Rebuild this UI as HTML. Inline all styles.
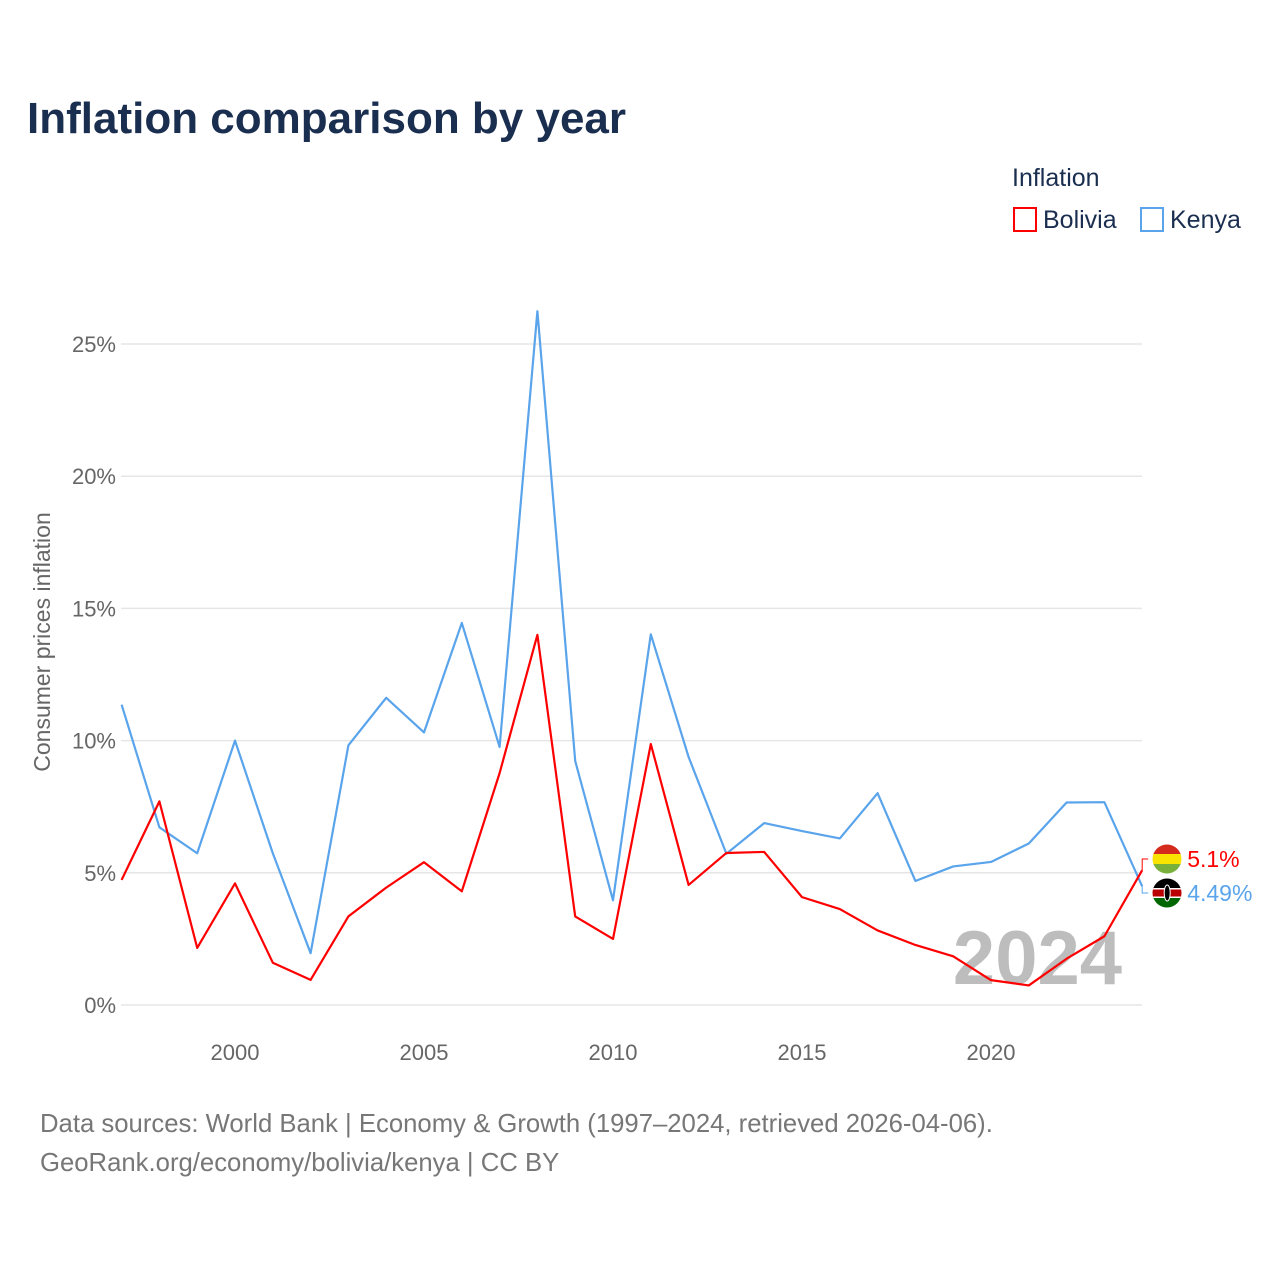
<!DOCTYPE html>
<html><head><meta charset="utf-8"><style>
body{margin:0;background:#fff;font-family:"Liberation Sans",sans-serif;}
svg text{font-family:"Liberation Sans",sans-serif;}
</style></head><body>
<svg id="chart" width="1280" height="1280" viewBox="0 0 1280 1280" xmlns="http://www.w3.org/2000/svg">
<defs>
<clipPath id="clipBo"><circle cx="1167" cy="859" r="14.5"/></clipPath>
<clipPath id="clipKe"><circle cx="1167" cy="893" r="14.5"/></clipPath>
</defs>
<rect width="1280" height="1280" fill="#fff"/>
<text x="27" y="133" font-size="44" font-weight="bold" fill="#1a2e4f">Inflation comparison by year</text>
<g>
<text x="1012" y="186" font-size="25" fill="#1a2e4f">Inflation</text>
<g><rect x="1014" y="208" width="22" height="23" fill="none" stroke="#f00" stroke-width="2"/><text x="1043" y="228" font-size="25" fill="#1a2e4f">Bolivia</text></g>
<g><rect x="1141" y="208" width="22" height="23" fill="none" stroke="#5aa4ec" stroke-width="2"/><text x="1170" y="228" font-size="25" fill="#1a2e4f">Kenya</text></g>
</g>
<g id="grid"></g>
<g id="yticks"></g>
<g id="xticks"></g>
<text transform="translate(50,642) rotate(-90)" text-anchor="middle" font-size="23" fill="#666">Consumer prices inflation</text>
<text x="1122" y="984" text-anchor="end" font-size="76" font-weight="bold" fill="#bdbdbd">2024</text>
<g id="series"></g>
<text x="40" y="1132" font-size="25.7" fill="#777">Data sources: World Bank | Economy &amp; Growth (1997–2024, retrieved 2026-04-06).</text>
<text x="40" y="1171" font-size="25.7" fill="#777">GeoRank.org/economy/bolivia/kenya | CC BY</text>
</svg>
<script>
const years=[1997,1998,1999,2000,2001,2002,2003,2004,2005,2006,2007,2008,2009,2010,2011,2012,2013,2014,2015,2016,2017,2018,2019,2020,2021,2022,2023,2024];
const bolivia=[4.73,7.7,2.16,4.6,1.6,0.95,3.35,4.44,5.4,4.3,8.77,14.0,3.35,2.5,9.87,4.54,5.75,5.79,4.08,3.63,2.82,2.27,1.84,0.94,0.74,1.75,2.6,5.1];
const kenya=[11.36,6.72,5.74,10.0,5.74,1.96,9.82,11.62,10.31,14.45,9.76,26.24,9.23,3.96,14.02,9.38,5.72,6.88,6.58,6.3,8.01,4.69,5.24,5.41,6.11,7.66,7.67,4.49];
const yTicks=[0,5,10,15,20,25];
const xTicks=[2000,2005,2010,2015,2020];
const NS="http://www.w3.org/2000/svg";
const X=y=>121.6+(y-1997)*37.8;
const Y=v=>1005-v*26.44;
function mk(t,a,p){const e=document.createElementNS(NS,t);for(const k in a)e.setAttribute(k,a[k]);p.appendChild(e);return e;}
const grid=document.getElementById('grid'),yt=document.getElementById('yticks'),xt=document.getElementById('xticks'),ser=document.getElementById('series');
yTicks.forEach(v=>{
 const l=mk('line',{x1:121,x2:1142,y1:Y(v),y2:Y(v),stroke:'#e6e6e6','stroke-width':1.5},grid);
 
 
 const t=mk('text',{x:116,y:Y(v)+8,'text-anchor':'end','font-size':22,fill:'#666'},yt);t.textContent=v+'%';
 
 
});
xTicks.forEach(v=>{
 const t=mk('text',{x:X(v),y:1060,'text-anchor':'middle','font-size':22,fill:'#666'},xt);t.textContent=v;
 
 
});
function line(vals,color,name){
 const p=mk('polyline',{points:vals.map((v,i)=>X(years[i])+','+Y(v)).join(' '),fill:'none',stroke:color,'stroke-width':2.2,'stroke-linejoin':'round'},ser);
 
 
}
line(kenya,'#5aa4ec','kenya-line');
line(bolivia,'#f00','bolivia-line');
const lb=bolivia[bolivia.length-1],lk=kenya[kenya.length-1];
const ex=X(years[years.length-1]);
function endLabel(v,yv,ly,color,name,flag){
 const g=mk('g',{},ser);
 
 
 mk('polyline',{points:`${ex},${yv} ${ex},${ly} ${ex+6},${ly}`,fill:'none',stroke:color,'stroke-width':1},g);
 const cx=ex+25;
 const f=mk('g',{'clip-path':flag==='bo'?'url(#clipBo)':'url(#clipKe)'},g);
 if(flag==='bo'){
  mk('rect',{x:cx-15,y:ly-15,width:30,height:10,fill:'#d52b1e'},f);
  mk('rect',{x:cx-15,y:ly-5,width:30,height:10,fill:'#f9e300'},f);
  mk('rect',{x:cx-15,y:ly+5,width:30,height:10,fill:'#79b03c'},f);
 } else {
  mk('rect',{x:cx-15,y:ly-15,width:30,height:10,fill:'#000'},f);
  mk('rect',{x:cx-15,y:ly-5,width:30,height:10,fill:'#bb0000'},f);
  mk('rect',{x:cx-15,y:ly+5,width:30,height:10,fill:'#006600'},f);
  mk('rect',{x:cx-15,y:ly-5,width:30,height:1.5,fill:'#fff'},f);
  mk('rect',{x:cx-15,y:ly+3.5,width:30,height:1.5,fill:'#fff'},f);
  mk('ellipse',{cx:cx,cy:ly,rx:3,ry:8,fill:'#000',stroke:'#fff','stroke-width':1},f);
 }
 const t=mk('text',{x:ex+45,y:ly+8,'font-size':23,fill:color},g);t.textContent=(+v.toFixed(2))+'%';
}
endLabel(lb,Y(lb),859,'#f00','bolivia-end-label','bo');
endLabel(lk,Y(lk),893,'#5aa4ec','kenya-end-label','ke');
</script>
</body></html>
